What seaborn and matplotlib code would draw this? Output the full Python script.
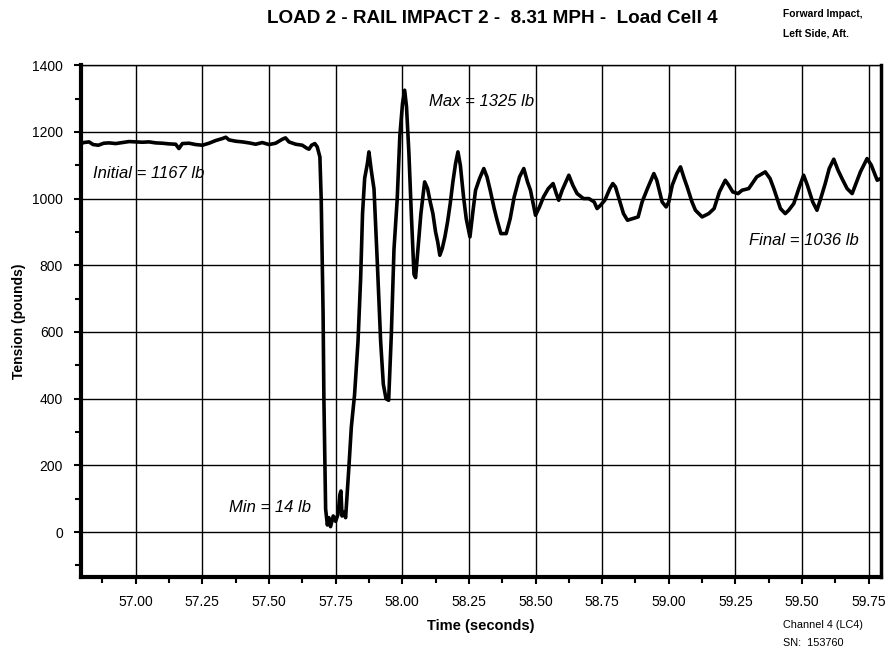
import numpy as np
import pandas as pd
import matplotlib
matplotlib.use('Agg')
import matplotlib.pyplot as plt
import seaborn as sns
from matplotlib.ticker import MultipleLocator

# Load cell 4 trace (time in s, tension in lb)
time_s = [
    56.795, 56.805, 56.825, 56.840, 56.860, 56.880, 56.900, 56.925, 56.950, 56.975,
    57.000, 57.025, 57.050, 57.075, 57.100, 57.125, 57.150, 57.162, 57.175, 57.200,
    57.225, 57.250, 57.275, 57.300, 57.325, 57.338, 57.350, 57.375, 57.400, 57.425,
    57.450, 57.475, 57.500, 57.525, 57.550, 57.562, 57.575, 57.600, 57.625, 57.640,
    57.650, 57.660, 57.672, 57.681, 57.691, 57.696, 57.703, 57.706, 57.7125, 57.719,
    57.725, 57.731, 57.741, 57.750, 57.759, 57.766, 57.770, 57.774, 57.781, 57.7875,
    57.794, 57.800, 57.809, 57.821, 57.834, 57.844, 57.851, 57.859, 57.869, 57.875,
    57.884, 57.894, 57.906, 57.919, 57.929, 57.939, 57.949, 57.959, 57.969, 57.981,
    57.991, 58.001, 58.009, 58.016, 58.025, 58.034, 58.044, 58.050, 58.060, 58.070,
    58.084, 58.095, 58.105, 58.115, 58.125, 58.133, 58.141, 58.150, 58.160, 58.170,
    58.180, 58.190, 58.200, 58.209, 58.218, 58.230, 58.240, 58.254, 58.265, 58.275,
    58.290, 58.306, 58.318, 58.330, 58.345, 58.356, 58.370, 58.390, 58.405, 58.420,
    58.440, 58.456, 58.470, 58.481, 58.500, 58.515, 58.530, 58.548, 58.566, 58.578,
    58.587, 58.600, 58.625, 58.640, 58.656, 58.680, 58.700, 58.720, 58.731, 58.744,
    58.760, 58.779, 58.790, 58.800, 58.815, 58.830, 58.845, 58.865, 58.885, 58.900,
    58.920, 58.944, 58.955, 58.975, 58.990, 59.000, 59.013, 59.030, 59.044, 59.058,
    59.069, 59.087, 59.100, 59.125, 59.150, 59.170, 59.190, 59.212, 59.225, 59.240,
    59.260, 59.275, 59.300, 59.330, 59.362, 59.380, 59.394, 59.419, 59.437, 59.450,
    59.469, 59.490, 59.506, 59.520, 59.540, 59.556, 59.570, 59.587, 59.602, 59.619,
    59.635, 59.650, 59.669, 59.688, 59.700, 59.719, 59.744, 59.760, 59.782, 59.795,
]
tension_lb = [
    1165, 1168, 1170, 1162, 1160, 1166, 1167, 1165, 1168, 1171,
    1170, 1169, 1170, 1167, 1166, 1164, 1163, 1150, 1165, 1166,
    1162, 1160, 1166, 1174, 1180, 1184, 1176, 1172, 1170, 1167,
    1163, 1168, 1162, 1166, 1178, 1182, 1170, 1163, 1160, 1152,
    1148, 1160, 1165, 1155, 1125, 997, 656, 400, 69, 21,
    43, 16, 48, 32, 53, 112, 123, 48, 59, 43,
    123, 197, 315, 411, 571, 763, 955, 1061, 1104, 1140,
    1083, 1029, 816, 571, 443, 400, 395, 592, 848, 997,
    1189, 1285, 1325, 1275, 1136, 955, 773, 763, 860, 955,
    1050, 1030, 990, 955, 900, 870, 830, 850, 885, 930,
    985, 1050, 1105, 1140, 1100, 1005, 940, 885, 960, 1025,
    1060, 1090, 1065, 1025, 970, 935, 895, 895, 940, 1005,
    1065, 1090, 1050, 1025, 950, 975, 1005, 1030, 1045, 1015,
    995, 1025, 1070, 1040, 1015, 1000, 1000, 990, 970, 980,
    995, 1030, 1045, 1035, 995, 955, 935, 940, 945, 990,
    1030, 1075, 1055, 990, 975, 990, 1040, 1075, 1095, 1060,
    1035, 990, 965, 945, 955, 970, 1020, 1055, 1040, 1020,
    1015, 1025, 1030, 1065, 1080, 1060, 1030, 970, 955, 965,
    985, 1035, 1070, 1040, 990, 965, 1000, 1045, 1090, 1118,
    1085, 1060, 1030, 1015, 1040, 1080, 1120, 1100, 1055, 1060,
]

x_ticks = [57.00, 57.25, 57.50, 57.75, 58.00, 58.25, 58.50, 58.75, 59.00, 59.25, 59.50, 59.75]
y_ticks = [0, 200, 400, 600, 800, 1000, 1200, 1400]

# annotation labels and their anchor points
note_text = ['Initial = 1167 lb', 'Max = 1325 lb', 'Min = 14 lb', 'Final = 1036 lb']
note_t = [56.84, 58.10, 57.35, 59.30]
note_v = [1076, 1290, 72, 875]

df = pd.DataFrame({'Time': time_s, 'Tension': tension_lb})

sns.set_style('white')
plt.rcParams['font.family'] = ['Liberation Sans', 'DejaVu Sans']
plt.rcParams['text.color'] = 'black'
plt.rcParams['axes.labelcolor'] = 'black'
plt.rcParams['xtick.color'] = 'black'
plt.rcParams['ytick.color'] = 'black'

fig = plt.figure(figsize=(8.91, 6.52), dpi=100)
ax = fig.add_axes([0.091, 0.115, 0.898, 0.785])

sns.lineplot(data=df, x='Time', y='Tension', ax=ax, color='black',
             linewidth=2.6, sort=False, estimator=None)

ax.set_xlim(56.795, 59.797)
ax.set_ylim(-135, 1400)
ax.set_xticks(x_ticks)
ax.set_xticklabels([f'{t:.2f}' for t in x_ticks], fontsize=10)
ax.set_yticks(y_ticks)
ax.set_yticklabels([str(v) for v in y_ticks], fontsize=10)
ax.xaxis.set_minor_locator(MultipleLocator(0.125))
ax.yaxis.set_minor_locator(MultipleLocator(100))
ax.tick_params(axis='both', which='major', direction='out', length=5, width=1.5,
               left=True, bottom=True, pad=8)
ax.tick_params(axis='both', which='minor', direction='out', length=4, width=1.5,
               left=True, bottom=True)

ax.grid(True, which='major', color='black', linewidth=1.0)
for side, lw in [('left', 3), ('bottom', 3), ('top', 1), ('right', 2.5)]:
    ax.spines[side].set_visible(True)
    ax.spines[side].set_color('black')
    ax.spines[side].set_linewidth(lw)

ax.set_xlabel('Time (seconds)', fontsize=10.5, fontweight='bold', labelpad=7)
ax.set_ylabel('Tension (pounds)', fontsize=10, fontweight='bold', labelpad=4)

for txt, t, v in zip(note_text, note_t, note_v):
    ax.text(t, v, txt, fontsize=12, fontstyle='italic', va='center', ha='left')

fig.text(0.553, 0.972, 'LOAD 2 - RAIL IMPACT 2 -  8.31 MPH -  Load Cell 4',
         ha='center', va='center', fontsize=13.6, fontweight='bold')
fig.text(0.879, 0.979, 'Forward Impact,', fontsize=7.4, fontweight='bold', va='center')
fig.text(0.879, 0.949, 'Left Side, Aft.', fontsize=7.4, fontweight='bold', va='center')
fig.text(0.879, 0.041, 'Channel 4 (LC4)', fontsize=7.8, va='center')
fig.text(0.879, 0.014, 'SN:  153760', fontsize=7.8, va='center')

fig.savefig('out.png', dpi=100)
